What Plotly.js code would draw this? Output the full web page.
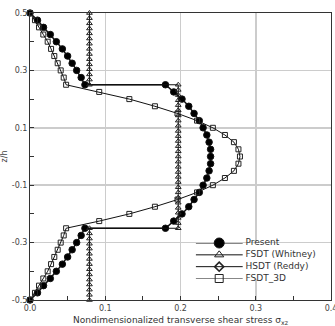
<!DOCTYPE html>
<html><head><meta charset="utf-8">
<script src="https://cdn.plot.ly/plotly-3.0.1.min.js"></script>
<style>html,body{margin:0;padding:0;background:#fff}#chart{width:335px;height:326px}</style>
</head><body><div id="chart"></div>
<script>
// ---- data ----
var presentZ = [0.5,0.475,0.45,0.425,0.4,0.375,0.35,0.325,0.3,0.275,0.25,
  0.25,0.225,0.2,0.175,0.15,0.125,0.1,0.075,0.05,0.025,0,-0.025,-0.05,-0.075,-0.1,-0.125,-0.15,-0.175,-0.2,-0.225,-0.25,
  -0.25,-0.275,-0.3,-0.325,-0.35,-0.375,-0.4,-0.425,-0.45,-0.475,-0.5];
var presentS = [0,0.010,0.018,0.027,0.035,0.043,0.050,0.056,0.062,0.068,0.073,
  0.180,0.191,0.202,0.211,0.218,0.225,0.230,0.235,0.238,0.240,0.240,0.240,0.238,0.235,0.230,0.225,0.218,0.211,0.202,0.191,0.180,
  0.073,0.068,0.062,0.056,0.050,0.043,0.035,0.027,0.018,0.010,0];

var whitneyZ = [0.5,0.482,0.464,0.446,0.429,0.411,0.393,0.375,0.357,0.339,0.321,0.304,0.286,0.268,0.25,
  0.25,0.232,0.214,0.196,0.179,0.161,0.143,0.125,0.107,0.089,0.071,0.054,0.036,0.018,0,
  -0.018,-0.036,-0.054,-0.071,-0.089,-0.107,-0.125,-0.143,-0.161,-0.179,-0.196,-0.214,-0.232,-0.25,
  -0.25,-0.268,-0.286,-0.304,-0.321,-0.339,-0.357,-0.375,-0.393,-0.411,-0.429,-0.446,-0.464,-0.482,-0.5];
var whitneyS = [0.079,0.079,0.079,0.079,0.079,0.079,0.079,0.079,0.079,0.079,0.079,0.079,0.079,0.079,0.079,
  0.197,0.197,0.197,0.197,0.197,0.197,0.197,0.197,0.197,0.197,0.197,0.197,0.197,0.197,0.197,
  0.197,0.197,0.197,0.197,0.197,0.197,0.197,0.197,0.197,0.197,0.197,0.197,0.197,0.197,
  0.079,0.079,0.079,0.079,0.079,0.079,0.079,0.079,0.079,0.079,0.079,0.079,0.079,0.079,0.079];

var reddyZ = [];   // HSDT (Reddy): not distinguishable in the plot (legend only)
var reddyS = [];

var fsdt3dZ = [0.5,0.475,0.45,0.425,0.4,0.375,0.35,0.325,0.3,0.275,0.25,
  0.225,0.2,0.175,0.15,0.125,0.1,0.075,0.05,0.025,0,-0.025,-0.05,-0.075,-0.1,-0.125,-0.15,-0.175,-0.2,-0.225,
  -0.25,-0.275,-0.3,-0.325,-0.35,-0.375,-0.4,-0.425,-0.45,-0.475,-0.5];
var fsdt3dS = [0,0.0066,0.012,0.0177,0.0235,0.028,0.0323,0.0368,0.0408,0.0448,0.048,
  0.092,0.132,0.166,0.196,0.222,0.243,0.259,0.271,0.277,0.279,0.277,0.271,0.259,0.243,0.222,0.196,0.166,0.132,0.092,
  0.048,0.0448,0.0408,0.0368,0.0323,0.028,0.0235,0.0177,0.012,0.0066,0];

var legendNames = ['Present','FSDT (Whitney)','HSDT (Reddy)','FSDT_3D'];
var xTickVals = [0,0.1,0.2,0.3,0.4];
var xTickText = ['0.0','0.1','0.2','0.3','0.4'];
var xMinorVals = [0.05,0.15,0.25,0.35];
var yTickVals = [0.5,0.3,0.1,-0.1,-0.3,-0.5];
var yTickText = ['0.5','0.3','0.1','-0.1','-0.3','-0.5'];
var yMinorVals = [0.4,0.2,0,-0.2,-0.4];

// ---- styles ----
var styles = [
  {sym:'circle', plotSize:6.5, legSize:10, fill:'#000', lw:1.5, mlw:1},
  {sym:'triangle-up-open', plotSize:5, legSize:8, fill:'#222', lw:1, mlw:1},
  {sym:'diamond-open', plotSize:5, legSize:7, fill:'#222', lw:1, mlw:1.6},
  {sym:'square-open', plotSize:5, legSize:8, fill:'#222', lw:1, mlw:1}
];
var series = [[presentS,presentZ],[whitneyS,whitneyZ],[reddyS,reddyZ],[fsdt3dS,fsdt3dZ]];

var traces = [];
series.forEach(function(s,i){
  traces.push({x:s[0], y:s[1], type:'scatter', mode:'lines+markers', showlegend:false,
    line:{color:'#111', width:styles[i].lw},
    marker:{symbol:styles[i].sym, size:styles[i].plotSize, color:styles[i].fill, line:{color:'#111', width:styles[i].mlw}},
    cliponaxis:false});
});
// custom legend on a hidden helper subplot (white box, then rows)
traces.push({x:[-0.15,2.6,2.6,-0.15,-0.15], y:[-0.65,-0.65,3.65,3.65,-0.65], xaxis:'x2', yaxis:'y2',
  type:'scatter', mode:'lines', fill:'toself', fillcolor:'#fff', line:{width:0, color:'rgba(0,0,0,0)'},
  showlegend:false, hoverinfo:'skip', cliponaxis:false});
legendNames.forEach(function(name,i){
  traces.push({x:[0,1], y:[i,i], xaxis:'x2', yaxis:'y2', type:'scatter', mode:'lines', showlegend:false,
    line:{color:'#111', width:1}, hoverinfo:'skip', cliponaxis:false});
  traces.push({x:[0.5], y:[i], xaxis:'x2', yaxis:'y2', type:'scatter', mode:'markers', showlegend:false,
    marker:{symbol:styles[i].sym, size:styles[i].legSize, color:styles[i].fill, line:{color:'#111', width:styles[i].mlw}},
    hoverinfo:'skip', cliponaxis:false});
  traces.push({x:[1.06], y:[i], xaxis:'x2', yaxis:'y2', type:'scatter', mode:'text', text:[name], showlegend:false,
    textposition:'middle right', textfont:{family:'DejaVu Sans', size:9, color:'#333'}, hoverinfo:'skip', cliponaxis:false});
});

var fontFam = 'DejaVu Sans, Verdana, sans-serif';
var layout = {
  width:335, height:326,
  margin:{l:30, r:4, t:13, b:26},
  paper_bgcolor:'#fff', plot_bgcolor:'#fff',
  showlegend:false,
  font:{family:fontFam, size:8, color:'#444'},
  xaxis:{range:[0,0.4], tickmode:'array', tickvals:xTickVals, ticktext:xTickText, ticklabeloverflow:'allow',
    ticks:'inside', ticklen:4, tickcolor:'#333', showline:true, linecolor:'#333', linewidth:1, mirror:true,
    showgrid:true, gridcolor:'#cccccc', gridwidth:1.5, zeroline:false,
    minor:{tickvals:xMinorVals, ticks:'inside', ticklen:4, tickcolor:'#333', showgrid:false},
    tickfont:{size:8, color:'#444'},
    title:{text:'Nondimensionalized transverse shear stress σ<sub>xz</sub>', font:{size:9, color:'#333'}, standoff:6}},
  yaxis:{range:[-0.5,0.5], tickmode:'array', tickvals:yTickVals, ticktext:yTickText,
    ticks:'inside', ticklen:4, tickcolor:'#333', showline:true, linecolor:'#333', linewidth:1, mirror:true,
    showgrid:true, gridcolor:'#cccccc', gridwidth:1.5, zeroline:false,
    minor:{tickvals:yMinorVals, ticks:'inside', ticklen:4, tickcolor:'#333', showgrid:false},
    tickfont:{size:8, color:'#444'},
    title:{text:'z/h', font:{size:8, color:'#444'}, standoff:4}},
  xaxis2:{domain:[0.5505,0.9409], range:[0,2.5], visible:false, fixedrange:true, anchor:'y2'},
  yaxis2:{domain:[0.0749,0.1986], range:[3,0], visible:false, fixedrange:true, anchor:'x2'}
};
Plotly.newPlot('chart', traces, layout, {staticPlot:true, displayModeBar:false});
</script></body></html>
